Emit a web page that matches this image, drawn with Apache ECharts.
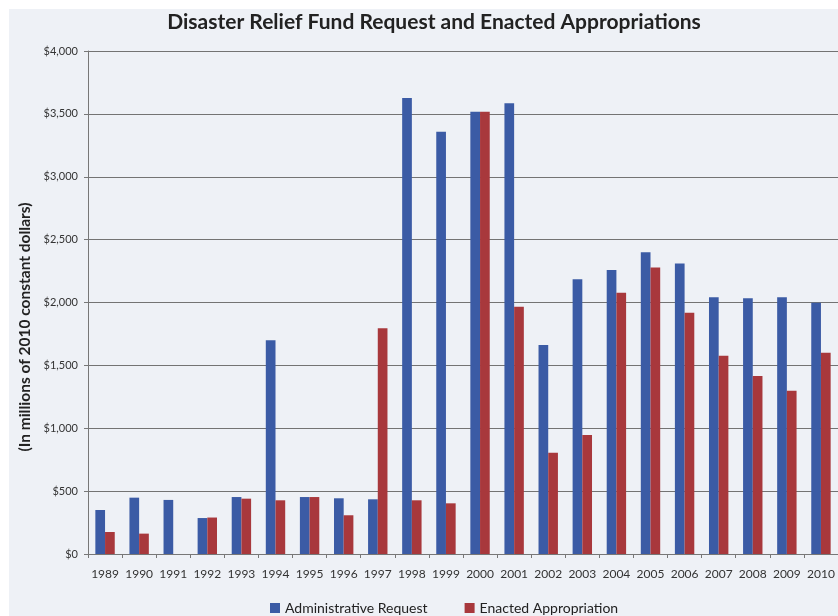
<!DOCTYPE html>
<html>
<head>
<meta charset="utf-8">
<script src="https://cdn.jsdelivr.net/npm/echarts@6/dist/echarts.min.js"></script>
<style>
html,body{margin:0;padding:0;background:#ffffff;}
#chart{width:838px;height:616px;}
</style>
</head>
<body>
<div id="chart"></div>
<script>
var years = ['1989','1990','1991','1992','1993','1994','1995','1996','1997','1998','1999','2000','2001','2002','2003','2004','2005','2006','2007','2008','2009','2010'];
var adminRequest = [350, 448, 430, 286, 453, 1700, 453, 443, 435, 3626, 3358, 3517, 3584, 1662, 2184, 2258, 2399, 2311, 2041, 2033, 2041, 1998];
var enacted = [175, 162, 0, 290, 440, 427, 453, 308, 1795, 427, 403, 3517, 1967, 806, 946, 2078, 2279, 1919, 1577, 1415, 1299, 1601];
var yTicks = [0, 500, 1000, 1500, 2000, 2500, 3000, 3500, 4000];

var chart = echarts.init(document.getElementById('chart'), null, {renderer: 'canvas'});
var fontFam = 'Lato, "Open Sans", sans-serif';
chart.setOption({
  backgroundColor: '#eef1f6',
  animation: false,
  textStyle: {fontFamily: fontFam},
  graphic: [
    {type: 'rect', left: 0, top: 0, shape: {width: 838, height: 9}, style: {fill: '#ffffff'}, z: -1},
    {type: 'rect', left: 0, top: 0, shape: {width: 9, height: 616}, style: {fill: '#ffffff'}, z: -1},
    {type: 'text', x: 25, y: 327, rotation: Math.PI / 2,
      style: {text: '(In millions of 2010 constant dollars)', fill: '#222', font: 'bold 15.5px ' + fontFam, align: 'center', verticalAlign: 'middle'}}
  ],
  title: {
    text: 'Disaster Relief Fund Request and Enacted Appropriations',
    left: 429, textAlign: 'center', top: 7,
    textStyle: {fontFamily: fontFam, fontWeight: 'bold', fontSize: 21, color: '#222'}
  },
  legend: {
    left: 265, top: 596, orient: 'horizontal',
    icon: 'rect', itemWidth: 10, itemHeight: 10, itemGap: 37,
    textStyle: {fontFamily: fontFam, fontSize: 14, color: '#222'},
    data: ['Administrative Request', 'Enacted Appropriation']
  },
  grid: {left: 88, top: 51, width: 759, height: 503, containLabel: false},
  xAxis: {
    type: 'category', data: years,
    axisLine: {lineStyle: {color: '#777', width: 1}},
    axisTick: {show: true, length: 4, lineStyle: {color: '#777'}},
    axisLabel: {fontSize: 12, color: '#333', margin: 14, interval: 0}
  },
  yAxis: {
    type: 'value', min: 0, max: 4000, interval: 500,
    axisLine: {show: true, lineStyle: {color: '#777'}},
    axisTick: {show: true, length: 4, lineStyle: {color: '#777'}},
    axisLabel: {fontSize: 11, color: '#333', margin: 10,
      formatter: function (v) { return '$' + v.toLocaleString('en-US'); },
      customValues: yTicks},
    splitLine: {lineStyle: {color: '#737373', width: 1}}
  },
  series: [
    {name: 'Administrative Request', type: 'bar', data: adminRequest, barWidth: 9.7, barGap: '0%', itemStyle: {color: '#3b5ba5'}},
    {name: 'Enacted Appropriation', type: 'bar', data: enacted, barWidth: 9.7, barGap: '0%', itemStyle: {color: '#a8383c'}}
  ]
});
</script>
</body>
</html>
